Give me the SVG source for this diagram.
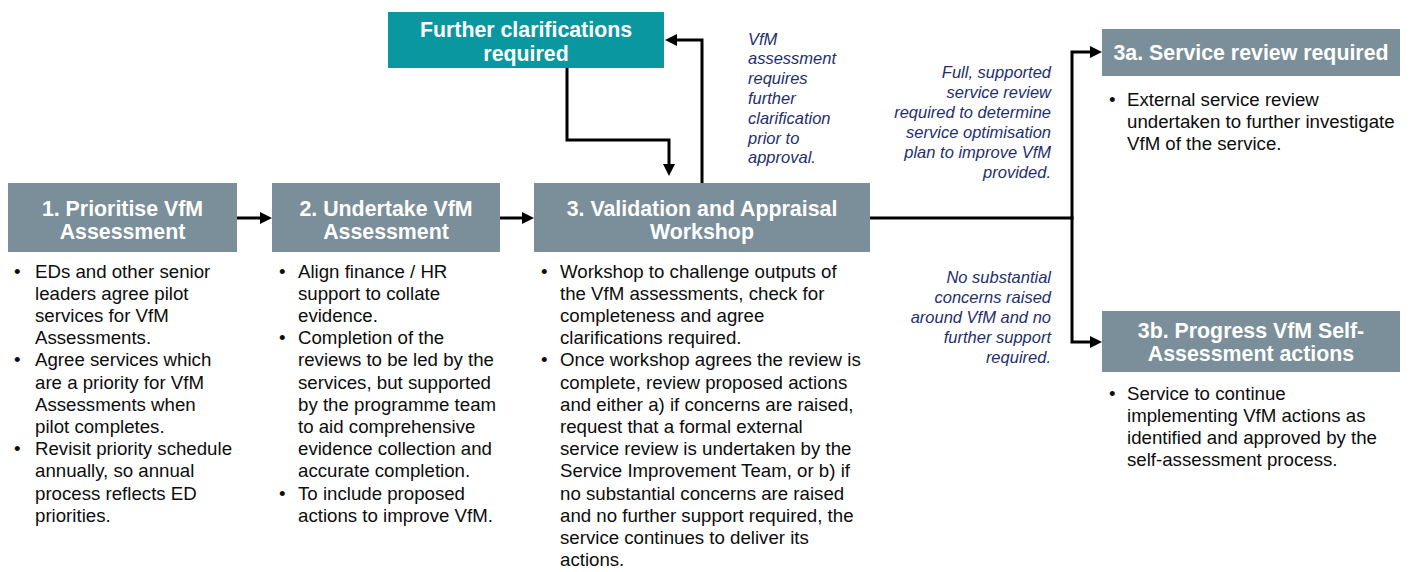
<svg xmlns="http://www.w3.org/2000/svg" width="1410" height="572" viewBox="0 0 1410 572">
  <style>
    .box { fill: #7A8F99; }
    .teal { fill: #0B97A0; }
    .title { font-family: "Liberation Sans", Arial, sans-serif; font-size: 21.33px; font-weight: bold; fill: #FFFFFF; text-anchor: middle; }
    .body { font-family: "Liberation Sans", Arial, sans-serif; font-size: 18.67px; fill: #0D0D0D; }
    .note { font-family: "Liberation Sans", Arial, sans-serif; font-size: 16.5px; font-style: italic; fill: #1F2F6E; }
    .note-r { text-anchor: end; }
    .wire { fill: none; stroke: #000000; stroke-width: 3; }
  </style>
  <defs>
    <marker id="arrow" markerUnits="userSpaceOnUse" markerWidth="12" markerHeight="12" refX="8" refY="6" orient="auto">
      <path d="M0,0 L12,6 L0,12 Z" fill="#000000"/>
    </marker>
  </defs>

  <rect width="1410" height="572" fill="#FFFFFF"/>

  <!-- connectors -->
  <g id="connectors">
    <path class="wire" d="M237,218 H268" marker-end="url(#arrow)"/>
    <path class="wire" d="M500,218 H530" marker-end="url(#arrow)"/>
    <path class="wire" d="M567,68 V140 H669 V172" marker-end="url(#arrow)"/>
    <path class="wire" d="M702,183 V40 H669" marker-end="url(#arrow)"/>
    <path class="wire" d="M870,218 H1072"/>
    <path class="wire" d="M1072,219.5 V52 H1098" marker-end="url(#arrow)"/>
    <path class="wire" d="M1072,216.5 V342 H1098" marker-end="url(#arrow)"/>
  </g>

  <!-- connector notes -->
  <g id="note-clarify" class="note">
    <text x="748" y="44.5">VfM</text>
    <text x="748" y="64.3">assessment</text>
    <text x="748" y="84.1">requires</text>
    <text x="748" y="103.9">further</text>
    <text x="748" y="123.7">clarification</text>
    <text x="748" y="143.5">prior to</text>
    <text x="748" y="163.3">approval.</text>
  </g>
  <g id="note-review" class="note note-r">
    <text x="1051" y="77.5">Full, supported</text>
    <text x="1051" y="97.5">service review</text>
    <text x="1051" y="117.5">required to determine</text>
    <text x="1051" y="137.5">service optimisation</text>
    <text x="1051" y="157.5">plan to improve VfM</text>
    <text x="1051" y="177.5">provided.</text>
  </g>
  <g id="note-self" class="note note-r">
    <text x="1051" y="282.5">No substantial</text>
    <text x="1051" y="302.7">concerns raised</text>
    <text x="1051" y="322.9">around VfM and no</text>
    <text x="1051" y="343.1">further support</text>
    <text x="1051" y="363.3">required.</text>
  </g>

  <!-- Further clarifications -->
  <g id="node-clarifications">
    <rect class="teal" x="388" y="12" width="276" height="56"/>
    <text class="title" x="526" y="36.5">Further clarifications</text>
    <text class="title" x="526" y="60.5">required</text>
  </g>

  <!-- Step 1 -->
  <g id="node-prioritise">
    <rect class="box" x="8" y="183" width="229" height="69"/>
    <text class="title" x="122.5" y="215.5">1. Prioritise VfM</text>
    <text class="title" x="122.5" y="238.5">Assessment</text>
    <g class="body">
      <text x="14" y="277.5">•</text>
      <text x="35" y="277.5">EDs and other senior</text>
      <text x="35" y="299.7">leaders agree pilot</text>
      <text x="35" y="321.9">services for VfM</text>
      <text x="35" y="344.1">Assessments.</text>
      <text x="14" y="366.3">•</text>
      <text x="35" y="366.3">Agree services which</text>
      <text x="35" y="388.5">are a priority for VfM</text>
      <text x="35" y="410.7">Assessments when</text>
      <text x="35" y="432.9">pilot completes.</text>
      <text x="14" y="455.1">•</text>
      <text x="35" y="455.1">Revisit priority schedule</text>
      <text x="35" y="477.3">annually, so annual</text>
      <text x="35" y="499.5">process reflects ED</text>
      <text x="35" y="521.7">priorities.</text>
    </g>
  </g>

  <!-- Step 2 -->
  <g id="node-undertake">
    <rect class="box" x="272" y="183" width="228" height="69"/>
    <text class="title" x="386" y="215.5">2. Undertake VfM</text>
    <text class="title" x="386" y="238.5">Assessment</text>
    <g class="body">
      <text x="279" y="277.5">•</text>
      <text x="298" y="277.5">Align finance / HR</text>
      <text x="298" y="299.7">support to collate</text>
      <text x="298" y="321.9">evidence.</text>
      <text x="279" y="344.1">•</text>
      <text x="298" y="344.1">Completion of the</text>
      <text x="298" y="366.3">reviews to be led by the</text>
      <text x="298" y="388.5">services, but supported</text>
      <text x="298" y="410.7">by the programme team</text>
      <text x="298" y="432.9">to aid comprehensive</text>
      <text x="298" y="455.1">evidence collection and</text>
      <text x="298" y="477.3">accurate completion.</text>
      <text x="279" y="499.5">•</text>
      <text x="298" y="499.5">To include proposed</text>
      <text x="298" y="521.7">actions to improve VfM.</text>
    </g>
  </g>

  <!-- Step 3 -->
  <g id="node-workshop">
    <rect class="box" x="534" y="183" width="336" height="69"/>
    <text class="title" x="702" y="215.5">3. Validation and Appraisal</text>
    <text class="title" x="702" y="238.5">Workshop</text>
    <g class="body">
      <text x="541" y="277.5">•</text>
      <text x="560" y="277.5">Workshop to challenge outputs of</text>
      <text x="560" y="299.7">the VfM assessments, check for</text>
      <text x="560" y="321.9">completeness and agree</text>
      <text x="560" y="344.1">clarifications required.</text>
      <text x="541" y="366.3">•</text>
      <text x="560" y="366.3">Once workshop agrees the review is</text>
      <text x="560" y="388.5">complete, review proposed actions</text>
      <text x="560" y="410.7">and either a) if concerns are raised,</text>
      <text x="560" y="432.9">request that a formal external</text>
      <text x="560" y="455.1">service review is undertaken by the</text>
      <text x="560" y="477.3">Service Improvement Team, or b) if</text>
      <text x="560" y="499.5">no substantial concerns are raised</text>
      <text x="560" y="521.7">and no further support required, the</text>
      <text x="560" y="543.9">service continues to deliver its</text>
      <text x="560" y="566.1">actions.</text>
    </g>
  </g>

  <!-- Step 3a -->
  <g id="node-service-review">
    <rect class="box" x="1102" y="29" width="298" height="47"/>
    <text class="title" x="1251" y="59.5">3a. Service review required</text>
    <g class="body">
      <text x="1109" y="105.5">•</text>
      <text x="1127" y="105.5">External service review</text>
      <text x="1127" y="127.7">undertaken to further investigate</text>
      <text x="1127" y="149.9">VfM of the service.</text>
    </g>
  </g>

  <!-- Step 3b -->
  <g id="node-self-assessment">
    <rect class="box" x="1102" y="311" width="298" height="61"/>
    <text class="title" x="1251" y="337.5">3b. Progress VfM Self-</text>
    <text class="title" x="1251" y="360.5">Assessment actions</text>
    <g class="body">
      <text x="1109" y="399.5">•</text>
      <text x="1127" y="399.5">Service to continue</text>
      <text x="1127" y="421.7">implementing VfM actions as</text>
      <text x="1127" y="443.9">identified and approved by the</text>
      <text x="1127" y="466.1">self-assessment process.</text>
    </g>
  </g>
</svg>
